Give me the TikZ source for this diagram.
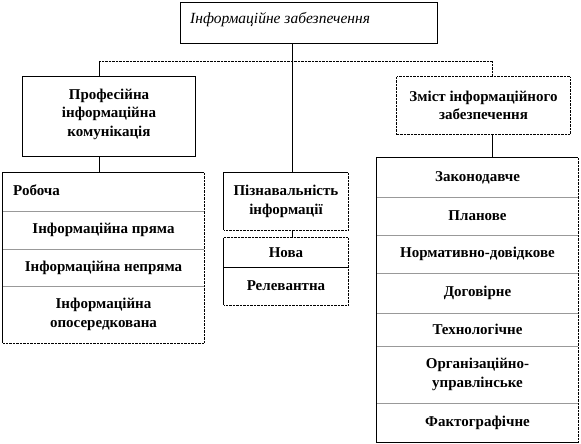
\documentclass[tikz,border=0pt]{standalone}
\usepackage{fontspec}
\setmainfont{Liberation Serif}
\begin{document}
\begin{tikzpicture}[x=1pt,y=-1pt,
  lbl/.style={inner sep=0pt, font=\fontsize{15}{18.5}\selectfont\bfseries, align=center},
  cell/.style={rectangle, inner sep=0pt, minimum width=#1},
  solidl/.style={line width=0.9pt, black},
  dotl/.style={line width=0.7pt, black, dash pattern=on 0.7pt off 0.7pt},
  divl/.style={line width=0.9pt, gray!80}]
\useasboundingbox (0,0) rectangle (581,444);
% top box
\node[cell=256pt, minimum height=40pt] (T) at (309,23) {};
\node[anchor=west, inner sep=0pt, font=\fontsize{15.5}{18}\selectfont\itshape] (Tt) at (190,20) {Інформаційне забезпечення};
\draw[solidl] (T.north west) rectangle (T.south east);
% left box
\node[cell=172pt, minimum height=79pt] (P) at (109,116.5) {};
\node[lbl] (Pt) at (109,114) {Професійна\\інформаційна\\комунікація};
\draw[solidl] (P.north west) rectangle (P.south east);
% right box
\node[cell=173pt, minimum height=57pt, lbl] (Z) at (483.5,105.5) {Зміст інформаційного\\забезпечення};
\draw[dotl] (Z.north west) rectangle (Z.south east);
% left stack
\node[cell=201pt, minimum height=38pt] (L1) at (103.5,192) {};
\node[lbl, anchor=west] (L1t) at (13,190) {Робоча};
\node[cell=201pt, minimum height=38pt, lbl] (L2) at (103.5,230) {Інформаційна пряма};
\node[cell=201pt, minimum height=37pt, lbl] (L3) at (103.5,267.5) {Інформаційна непряма};
\node[cell=201pt, minimum height=57pt, lbl] (L4) at (103.5,314.5) {Інформаційна\\опосередкована};
\draw[divl] (L1.south west) -- (L1.south east);
\draw[divl] (L2.south west) -- (L2.south east);
\draw[divl] (L3.south west) -- (L3.south east);
\draw[solidl] (L4.south west) -- (L1.north west) -- (L1.north east);
\draw[dotl] (L1.north east) -- (L4.south east) -- (L4.south west);
% middle
\node[cell=124pt, minimum height=57pt, lbl] (M1) at (286,201.5) {Пізнавальність\\інформації};
\draw[solidl] (M1.south west) -- (M1.north west) -- (M1.north east);
\draw[dotl] (M1.north east) -- (M1.south east) -- (M1.south west);
\node[cell=124pt, minimum height=29pt, lbl] (M2) at (286,252.5) {Нова};
\node[cell=124pt, minimum height=38pt, lbl] (M3) at (286,286) {Релевантна};
\draw[solidl] (M2.south west) -- (M2.south east);
\draw[dotl] (M2.north west) -- (M2.north east) -- (M3.south east) -- (M3.south west);
\draw[solidl] (M2.north west) -- (M3.south west);
% right stack
\node[cell=201pt, minimum height=39pt, lbl] (R1) at (477.5,177.5) {Законодавче};
\node[cell=201pt, minimum height=38pt, lbl] (R2) at (477.5,216) {Планове};
\node[cell=201pt, minimum height=38pt, lbl] (R3) at (477.5,254) {Нормативно-довідкове};
\node[cell=201pt, minimum height=40pt, lbl] (R4) at (477.5,293) {Договірне};
\node[cell=201pt, minimum height=33pt, lbl] (R5) at (477.5,329.5) {Технологічне};
\node[cell=201pt, minimum height=57pt, lbl] (R6) at (477.5,374.5) {Організаційно-\\управлінське};
\node[cell=201pt, minimum height=39pt, lbl] (R7) at (477.5,422.5) {Фактографічне};
\foreach \r in {R1,R2,R3,R4,R5,R6}{\draw[divl] (\r.south west) -- (\r.south east);}
\draw[solidl] (R7.south east) -- (R7.south west) -- (R1.north west) -- (R1.north east);
\draw[dotl] (R1.north east) -- (R7.south east);
% connectors
\coordinate (jl) at (99,61);
\coordinate (jc) at (292,61);
\coordinate (jr) at (492,61);
\draw[solidl] (T.south -| jc) -- (M1.north -| jc);
\draw[dotl] (jl) -- (jr);
\draw[solidl] (jl) -- (P.north -| jl);
\draw[dotl] (jr) -- (Z.north -| jr);
\draw[solidl] (P.south -| jl) -- (L1.north -| jl);
\draw[solidl] (Z.south -| jr) -- (R1.north -| jr);
\draw[solidl] (M1.south -| jc) -- (M2.north -| jc);
\end{tikzpicture}
\end{document}
